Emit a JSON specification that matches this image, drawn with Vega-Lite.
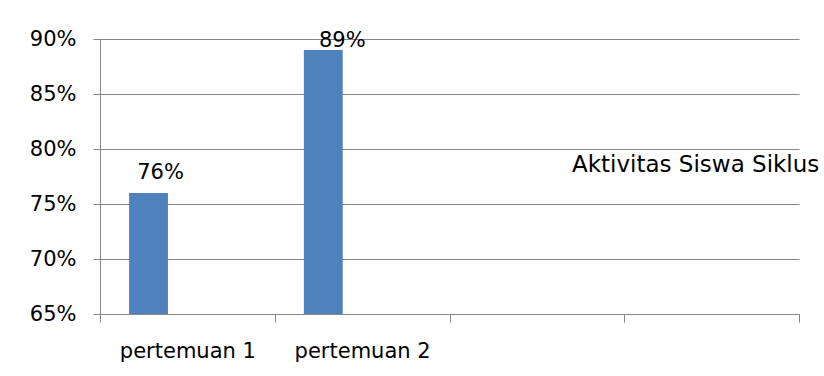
{
  "$schema": "https://vega.github.io/schema/vega-lite/v6.json",
  "width": 824,
  "height": 376,
  "autosize": {"type": "fit", "contains": "padding"},
  "padding": {"left": 29, "top": 28, "right": 24, "bottom": 15},
  "background": "white",
  "config": {
    "view": {"stroke": null},
    "axis": {
      "labelFont": "DejaVu Sans",
      "labelFontSize": 21,
      "labelColor": "#000000",
      "domainColor": "#868686",
      "tickColor": "#868686",
      "gridColor": "#868686",
      "gridOpacity": 1
    }
  },
  "data": {
    "values": [
      {"pertemuan": "pertemuan 1", "series": "Aktivitas Siswa Siklus", "pct": 0.76},
      {"pertemuan": "pertemuan 2", "series": "Aktivitas Siswa Siklus", "pct": 0.89}
    ]
  },
  "encoding": {
    "x": {
      "field": "pertemuan",
      "type": "nominal",
      "scale": {"domain": ["pertemuan 1", "pertemuan 2", " ", "  "], "paddingInner": 0, "paddingOuter": 0},
      "axis": {
        "title": null,
        "tickBand": "extent",
        "labelAngle": 0,
        "tickSize": 8,
        "labelPadding": 18,
        "grid": false
      }
    },
    "y": {
      "field": "pct",
      "type": "quantitative",
      "scale": {"domain": [0.65, 0.9], "zero": false, "nice": false},
      "axis": {
        "title": null,
        "tickCount": 5,
        "format": ".0%",
        "tickSize": 7,
        "labelPadding": 17,
        "grid": true
      }
    }
  },
  "layer": [
    {
      "mark": {"type": "bar", "color": "#4F81BD"},
      "encoding": {
        "xOffset": {
          "field": "series",
          "type": "nominal",
          "scale": {"domain": ["Aktivitas Siswa Siklus", "s2", "s3"], "paddingInner": 0, "paddingOuter": 0.75}
        },
        "y2": {"datum": 0.65},
        "color": {
          "field": "series",
          "type": "nominal",
          "scale": {"domain": ["Aktivitas Siswa Siklus", "s2", "s3"], "range": ["#4F81BD", "#4F81BD", "#4F81BD"]},
          "legend": {
            "values": ["Aktivitas Siswa Siklus"],
            "title": null,
            "orient": "none",
            "legendX": 449,
            "legendY": 114,
            "padding": 0,
            "symbolSize": 0,
            "symbolOpacity": 0,
            "symbolStrokeWidth": 0,
            "labelOffset": 0,
            "labelFont": "DejaVu Sans",
            "labelFontSize": 23,
            "labelColor": "#000000",
            "labelLimit": 400
          }
        }
      }
    },
    {
      "transform": [{"filter": "datum.pct < 0.85"}],
      "mark": {"type": "text", "baseline": "alphabetic", "fontSize": 21, "font": "DejaVu Sans", "color": "#000000", "dx": 12, "dy": -14},
      "encoding": {
        "xOffset": {
          "field": "series",
          "type": "nominal",
          "scale": {"domain": ["Aktivitas Siswa Siklus", "s2", "s3"], "paddingInner": 0, "paddingOuter": 0.75}
        },
        "text": {"field": "pct", "type": "quantitative", "format": ".0%"}
      }
    },
    {
      "transform": [{"filter": "datum.pct >= 0.85"}],
      "mark": {"type": "text", "baseline": "alphabetic", "fontSize": 21, "font": "DejaVu Sans", "color": "#000000", "dx": 19, "dy": -3},
      "encoding": {
        "xOffset": {
          "field": "series",
          "type": "nominal",
          "scale": {"domain": ["Aktivitas Siswa Siklus", "s2", "s3"], "paddingInner": 0, "paddingOuter": 0.75}
        },
        "text": {"field": "pct", "type": "quantitative", "format": ".0%"}
      }
    }
  ]
}
